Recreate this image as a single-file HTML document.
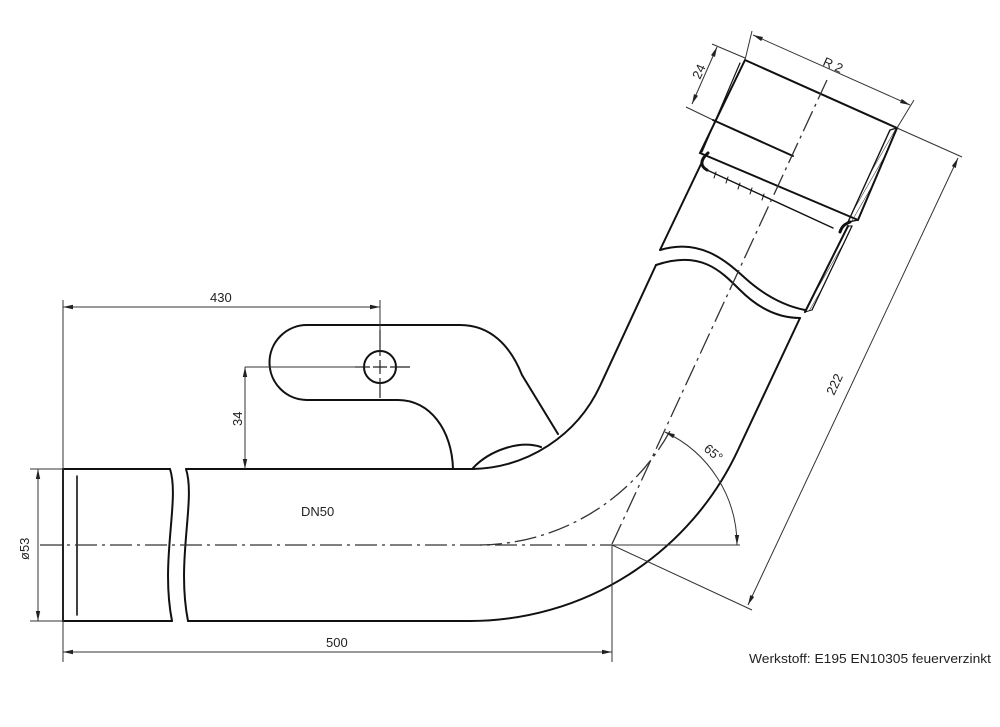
<!DOCTYPE html>
<html><head><meta charset="utf-8"><style>
html,body{margin:0;padding:0;background:#fff;}
svg{display:block;}
text{font-family:"Liberation Sans",sans-serif;fill:#222;}
</style></head><body>
<svg width="1000" height="727" viewBox="0 0 1000 727" xmlns="http://www.w3.org/2000/svg">
<defs>
<marker id="a" viewBox="0 0 10 6" refX="10" refY="3" markerWidth="10" markerHeight="6" orient="auto-start-reverse" markerUnits="userSpaceOnUse"><path d="M0,0.8 L10,3 L0,5.2 Z" fill="#222"/></marker>
<pattern id="h" width="4" height="4" patternUnits="userSpaceOnUse" patternTransform="rotate(30)"><line x1="0" y1="0" x2="0" y2="4" stroke="#222" stroke-width="1"/></pattern>
</defs>
<g fill="none" stroke="#111" stroke-width="2" stroke-linecap="round">
<!-- horizontal pipe -->
<path d="M63,469 L170,469 M186,469 L473,469 A144,144 0 0 0 600,386 L656,265"/>
<path d="M63,621 L172,621 M188,621 L470,621 A296,296 0 0 0 738,450 L800,318"/>
<path d="M63,469 L63,621"/>
<path d="M77,476 L77,615" stroke-width="1.6"/>
<path d="M170,469 C180,500 160,560 172,621"/>
<path d="M186,469 C196,500 176,560 188,621"/>
<!-- break on inclined pipe -->
<path d="M656,265 C700,250 720,270 740,290 C760,310 780,318 800,318"/>
<path d="M660,250 C700,238 725,260 745,278 C765,296 785,306 805,310"/>
<!-- upper pipe -->
<path d="M660,250 L702,162"/>
<path d="M805,312 L848,226"/>
<path d="M812,310 L852,226" stroke-width="1.2"/>
<!-- socket -->
<path d="M745,60 L897,128 L858,220 L700,153 Z"/>
<path d="M740,63 L702,152" stroke-width="1.2"/>
<path d="M713,120 L793,156"/>
<path d="M707,170 L833,228" stroke-width="1.4"/>
<path d="M708,153 C700,160 700,166 707,170" stroke-width="3"/>
<path d="M850,222 C845,224 842,226 840,232" stroke-width="3"/>
<g stroke-width="1">
<path d="M716,172 L714,178 M728,177 L726,183 M740,183 L738,189 M752,188 L750,194 M764,194 L762,200"/>
</g>
<path d="M890,130 L897,128 L858,220 L848,222 Z" fill="url(#h)" stroke-width="1.4"/>
<path d="M848,226 L852,226 L812,310 L805,312 Z" fill="url(#h)" stroke-width="1"/>
<!-- bracket -->
<path d="M307,325 L460,325 C490,325 510,345 522,375 L558,434"/>
<path d="M307,325 A37.5,37.5 0 0 0 307,400 L398,400 C430,400 452,430 453,469"/>
<circle cx="380" cy="367" r="16"/>
<path d="M473,468 C490,450 520,440 541,447"/>
</g>
<!-- center lines -->
<g fill="none" stroke="#333" stroke-width="1.3" stroke-dasharray="22,5,3,5">
<path d="M40,545 L612,545"/>
<path d="M480,545 A220,220 0 0 0 670,431"/>
<path d="M612,544 L827,80"/>
</g>
<g stroke="#222" stroke-width="1.2">
<path d="M380,330 L380,356 M380,378 L380,398 M355,367 L370,367 M390,367 L410,367 M373,367 L387,367 M380,360 L380,374"/>
</g>
<!-- dimension lines -->
<g fill="none" stroke="#333" stroke-width="1">
<path d="M63,300 L63,662"/>
<path d="M380,300 L380,330"/>
<path d="M63,307 L380,307" marker-start="url(#a)" marker-end="url(#a)"/>
<path d="M612,545 L612,662"/>
<path d="M63,652 L612,652" marker-start="url(#a)" marker-end="url(#a)"/>
<path d="M245,367 L362,367"/>
<path d="M245,367 L245,469" marker-start="url(#a)" marker-end="url(#a)"/>
<path d="M30,469 L63,469 M30,621 L63,621"/>
<path d="M38,469 L38,621" marker-start="url(#a)" marker-end="url(#a)"/>
<path d="M612,545 L740,545"/>
<path d="M737,545 A125,125 0 0 0 665,432" marker-start="url(#a)" marker-end="url(#a)"/>
<path d="M612,545 L752,610"/>
<path d="M897,128 L962,157"/>
<path d="M958,158 L748,605" marker-start="url(#a)" marker-end="url(#a)"/>
<path d="M745,60 L752,31 M897,128 L914,100"/>
<path d="M753,35 L910,105" marker-start="url(#a)" marker-end="url(#a)"/>
<path d="M745,58 L712,44 M713,120 L686,107"/>
<path d="M717,47 L692,104" marker-start="url(#a)" marker-end="url(#a)"/>
</g>
<!-- labels -->
<text x="210" y="302" font-size="13">430</text>
<text x="326" y="647" font-size="13">500</text>
<text x="301" y="516" font-size="13">DN50</text>
<text transform="translate(242,426) rotate(-90)" font-size="13">34</text>
<text transform="translate(29,560) rotate(-90)" font-size="13">ø53</text>
<text transform="translate(700,80) rotate(-66)" font-size="13">24</text>
<text transform="translate(822,65) rotate(24)" font-size="13">R 2</text>
<text transform="translate(834,396) rotate(-65)" font-size="13">222</text>
<text transform="translate(703,450) rotate(40)" font-size="13">65°</text>
<text x="749" y="663" font-size="12.5" textLength="242" lengthAdjust="spacingAndGlyphs">Werkstoff:  E195  EN10305  feuerverzinkt</text>
</svg>
</body></html>
